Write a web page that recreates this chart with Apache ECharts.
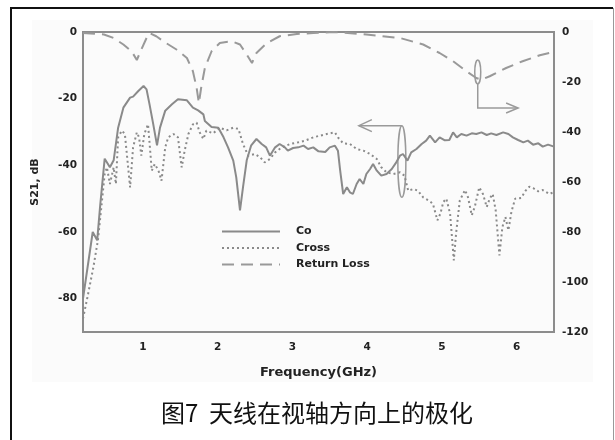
<!DOCTYPE html>
<html style="height: 100%">

<head>
  <meta charset="utf-8">
</head>

<body style="height: 100%; margin: 0; background: #fff">
  <div id="container" style="width: 615px; height: 440px"></div>
  <script type="text/javascript" src="https://cdn.jsdelivr.net/npm/echarts@6/dist/echarts.min.js"></script>
  <script type="text/javascript">
    // values (frequency in GHz, level in dB)
    var coFreq = [0.20, 0.33, 0.39, 0.43, 0.49, 0.56, 0.61, 0.67, 0.74, 0.83, 0.87, 0.94, 1.01, 1.05, 1.09,
      1.14, 1.19, 1.23, 1.30, 1.39, 1.47, 1.59, 1.67, 1.74, 1.81, 1.83, 1.92, 2.01, 2.08, 2.14, 2.21, 2.25,
      2.30, 2.34, 2.39, 2.45, 2.52, 2.59, 2.65, 2.70, 2.77, 2.83, 2.90, 2.94, 3.01, 3.08, 3.15, 3.21, 3.28,
      3.35, 3.44, 3.50, 3.57, 3.61, 3.64, 3.68, 3.73, 3.77, 3.81, 3.86, 3.90, 3.95, 3.99, 4.04, 4.08, 4.13,
      4.19, 4.26, 4.33, 4.39, 4.44, 4.48, 4.54, 4.59, 4.66, 4.73, 4.79, 4.84, 4.91, 4.97, 5.04, 5.10, 5.15,
      5.20, 5.26, 5.33, 5.40, 5.46, 5.53, 5.60, 5.66, 5.73, 5.82, 5.89, 5.95, 6.02, 6.09, 6.15, 6.22, 6.29,
      6.35, 6.42, 6.50];
    var coDb = [-80, -60, -62.5, -52, -38, -40.6, -38.5, -28.7, -22.7, -19.7, -19.4, -17.7, -16.2, -17.2, -21.7,
      -27.7, -34, -28.7, -23.6, -21.7, -20.2, -20.5, -22.7, -23.5, -24.7, -26.7, -28.5, -28.7, -31.6, -34.6, -38.6, -43.6,
      -53.5, -46.6, -38.5, -34, -32.1, -33.6, -34.6, -37.1, -34.6, -33.6, -34.6, -35.6, -34.8, -34.6, -34.1, -35.1, -34.6,
      -35.8, -36, -34.6, -34.1, -35.6, -41.6, -48.6, -46.6, -48.1, -48.6, -45.6, -44.1, -45.6, -42.6, -41.1, -39.6, -41.6,
      -43.1, -42.6, -41.1, -39.1, -37.1, -36.6, -38.6, -36.1, -35.1, -33.6, -32.6, -31.1, -33.1, -31.6, -32.5, -32.4, -30.1,
      -31.6, -30.6, -31.1, -30.4, -30.6, -30.1, -30.9, -30.4, -30.9, -30.1, -30.6, -31.6, -32.4, -33.1, -32.6, -33.8, -33.4,
      -34.4, -33.8, -34.4];

    var crossFreq = [0.20, 0.27, 0.34, 0.40, 0.45, 0.49, 0.52, 0.56, 0.61, 0.64, 0.67, 0.72, 0.76, 0.83, 0.87,
      0.92, 0.95, 0.98, 1.02, 1.07, 1.12, 1.16, 1.21, 1.25, 1.30, 1.34, 1.41, 1.47, 1.52, 1.56, 1.61, 1.67,
      1.72, 1.76, 1.81, 1.85, 1.94, 2.03, 2.12, 2.21, 2.28, 2.34, 2.41, 2.50, 2.57, 2.63, 2.70, 2.77, 2.86,
      2.97, 3.08, 3.17, 3.28, 3.37, 3.46, 3.57, 3.61, 3.68, 3.77, 3.86, 3.95, 4.04, 4.13, 4.19, 4.26, 4.35,
      4.44, 4.50, 4.55, 4.62, 4.68, 4.75, 4.82, 4.88, 4.94, 4.98, 5.02, 5.06, 5.11, 5.16, 5.19, 5.24, 5.31,
      5.35, 5.40, 5.44, 5.50, 5.55, 5.60, 5.64, 5.68, 5.72, 5.77, 5.81, 5.85, 5.89, 5.93, 5.98, 6.06, 6.12,
      6.17, 6.22, 6.29, 6.35, 6.44, 6.50];
    var crossDb = [-86, -78.4, -70.4, -62.4, -51.5, -42.6, -40.6, -45.6, -40.6, -45.6, -31.6, -29.6, -30.6, -46.6, -34.6,
      -30.1, -31.6, -37.1, -30.6, -27.7, -41.6, -39.6, -41.6, -44.6, -34.6, -31.6, -30.6, -31.6, -40.6, -35.6, -30.6, -27.7,
      -27.2, -30.1, -32.1, -29.6, -30.4, -28.7, -29.5, -28.7, -29.1, -33.6, -37.1, -36.6, -37.6, -39.1, -38.1, -36.1, -34.6,
      -33.6, -33.1, -32.6, -31.6, -31.1, -30.6, -30.1, -31.6, -33.4, -33.6, -35.1, -35.6, -36.6, -38.1, -40.6, -42.1, -42.6,
      -42.1, -43.1, -47.6, -47.1, -47.6, -49.6, -50.5, -51.5, -56.5, -54.5, -51, -50, -54.5, -68.5, -60.5, -50.5, -47.4,
      -49.6, -55, -52.5, -46.6, -48.6, -52.5, -50, -48.6, -53.5, -67, -58.5, -55.5, -59.5, -54, -50, -49.8, -47.6,
      -46.4, -46.8, -47.8, -47.4, -48.6, -48];

    var rlFreq = [0.20, 0.30, 0.48, 0.61, 0.74, 0.85, 0.92, 0.98, 1.05, 1.09, 1.18, 1.31, 1.45, 1.59, 1.67, 1.72,
      1.75, 1.78, 1.83, 1.92, 2.03, 2.19, 2.30, 2.39, 2.46, 2.52, 2.66, 2.83, 3.06, 3.28, 3.55, 3.99, 4.44,
      4.75, 4.97, 5.15, 5.33, 5.46, 5.53, 5.64, 5.86, 6.08, 6.31, 6.49];
    var rlDb = [-0.4, -0.6, -1, -2.4, -5, -7.7, -11.2, -7, -2.4, -0.4, -1.7, -4.4, -7, -10.4, -15.7, -22.4,
      -28.4, -22.4, -14.4, -7.7, -4.4, -3.7, -5, -9, -12.4, -8.4, -4.4, -1.7, -0.8, -0.4, 0, -1, -2.4,
      -5, -8.4, -11.7, -15.7, -18.4, -19.1, -17.7, -14.4, -11.7, -9.3, -8];

    var xTicks = [1, 2, 3, 4, 5, 6];
    var leftTicks = [0, -20, -40, -60, -80];

    function zip(xs, ys) {
      return xs.map(function (x, i) { return [x, ys[i]]; });
    }

    var grey = '#8c8c8c';
    var labelFont = { fontFamily: 'DejaVu Sans', fontWeight: 'bold', fontSize: 10.5, color: '#222' };

    var dom = document.getElementById("container");
    var myChart = echarts.init(dom, null, { renderer: 'canvas' });
    var option = {
      backgroundColor: '#fff',
      animation: false,
      title: {
        text: '图7  天线在视轴方向上的极化',
        left: 156,
        top: 396,
        textStyle: { fontFamily: 'Noto Sans CJK SC', fontWeight: 'normal', fontSize: 24, color: '#111' }
      },
      legend: {
        data: ['Co', 'Cross', 'Return Loss'],
        orient: 'vertical',
        left: 221,
        top: 226,
        padding: 0,
        itemWidth: 58,
        itemHeight: 12,
        itemGap: 5.5,
        itemStyle: { opacity: 0 },
        textStyle: { fontFamily: 'DejaVu Sans', fontWeight: 'bold', fontSize: 11, color: '#222', padding: [0, 0, 0, 11] }
      },
      grid: {
        left: 83, right: 61, top: 32, bottom: 108,
        show: true, borderColor: grey, borderWidth: 2, backgroundColor: 'transparent'
      },
      xAxis: {
        type: 'value', min: 0.2, max: 6.5,
        name: 'Frequency(GHz)', nameLocation: 'middle', nameGap: 34,
        nameTextStyle: { fontFamily: 'DejaVu Sans', fontWeight: 'bold', fontSize: 13, color: '#222' },
        axisLine: { lineStyle: { color: grey, width: 2 } },
        axisTick: { show: false },
        splitLine: { show: false },
        axisLabel: Object.assign({ customValues: xTicks, margin: 10 }, labelFont)
      },
      yAxis: [{
        type: 'value', min: -90, max: 0, position: 'left',
        name: 'S21, dB', nameLocation: 'middle', nameGap: 42, nameRotate: 90,
        nameTextStyle: { fontFamily: 'DejaVu Sans', fontWeight: 'bold', fontSize: 11, color: '#222' },
        axisLine: { show: true, lineStyle: { color: grey, width: 2 } },
        axisTick: { show: false },
        splitLine: { show: false },
        axisLabel: Object.assign({ customValues: leftTicks, margin: 6 }, labelFont)
      }, {
        type: 'value', min: -120, max: 0, interval: 20, position: 'right',
        axisLine: { show: true, lineStyle: { color: grey, width: 2 } },
        axisTick: { show: false },
        splitLine: { show: false },
        axisLabel: Object.assign({ margin: 8 }, labelFont)
      }],
      series: [{
        name: 'Co', type: 'line', yAxisIndex: 0, symbol: 'none', showSymbol: false,
        data: zip(coFreq, coDb),
        lineStyle: { color: '#8a8a8a', width: 2 },
        itemStyle: { color: '#8a8a8a' }
      }, {
        name: 'Cross', type: 'line', yAxisIndex: 0, symbol: 'none', showSymbol: false,
        data: zip(crossFreq, crossDb),
        lineStyle: { color: '#8a8a8a', width: 2, type: [2, 3] },
        itemStyle: { color: '#8a8a8a' }
      }, {
        name: 'Return Loss', type: 'line', yAxisIndex: 1, symbol: 'none', showSymbol: false,
        data: zip(rlFreq, rlDb),
        lineStyle: { color: '#999', width: 2, type: [12, 7] },
        itemStyle: { color: '#999' }
      }]
    };
    myChart.setOption(option);

    // annotation ellipses and arrows, placed through the axes
    function px(f, db, yi) {
      return myChart.convertToPixel({ xAxisIndex: 0, yAxisIndex: yi }, [f, db]);
    }
    var annStyle = { stroke: '#9a9a9a', lineWidth: 1.5, fill: null };

    var e1Top = px(5.48, -11.2, 1), e1Bot = px(5.48, -20.8, 1), a1Corner = px(5.48, -30.4, 1), a1End = px(6.02, -30.4, 1);
    var e2Top = px(4.465, -28.1, 0), e2Bot = px(4.465, -49.6, 0), a2End = px(3.89, -28.1, 0);

    var graphics = [
      { type: 'rect', z: -10, silent: true, shape: { x: 32, y: 20, width: 561, height: 362 }, style: { fill: '#fbfbfb' } },
      { type: 'polyline', z: 100, silent: true, shape: { points: [[11, 445], [11, 8], [613, 8]] }, style: { fill: null, stroke: '#111', lineWidth: 2 } },
      { type: 'line', z: 100, silent: true, shape: { x1: 613.5, y1: 8, x2: 613.5, y2: 445 }, style: { stroke: '#999', lineWidth: 1 } },
      { type: 'ellipse', shape: { cx: e1Top[0], cy: (e1Top[1] + e1Bot[1]) / 2, rx: 3, ry: (e1Bot[1] - e1Top[1]) / 2 }, style: annStyle },
      { type: 'polyline', shape: { points: [e1Bot, a1Corner, a1End] }, style: annStyle },
      { type: 'polyline', shape: { points: [[a1End[0] - 12, a1End[1] - 5], a1End, [a1End[0] - 12, a1End[1] + 5]] }, style: annStyle },
      { type: 'ellipse', shape: { cx: e2Top[0], cy: (e2Top[1] + e2Bot[1]) / 2, rx: 4, ry: (e2Bot[1] - e2Top[1]) / 2 }, style: annStyle },
      { type: 'line', shape: { x1: e2Top[0], y1: e2Top[1], x2: a2End[0], y2: a2End[1] }, style: annStyle },
      { type: 'polyline', shape: { points: [[a2End[0] + 13, a2End[1] - 6], a2End, [a2End[0] + 13, a2End[1] + 6]] }, style: annStyle }
    ];
    myChart.setOption({ graphic: graphics });
  </script>
</body>

</html>
